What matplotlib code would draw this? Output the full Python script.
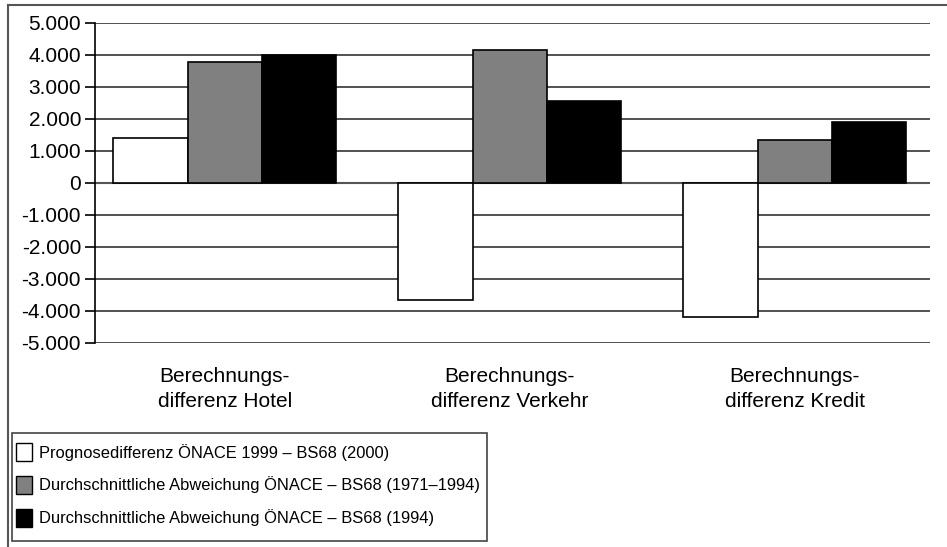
import numpy as np
import matplotlib.pyplot as plt
from matplotlib.lines import Line2D
from matplotlib.patches import Patch, Rectangle

plt.rcParams['font.family'] = ['Liberation Sans', 'DejaVu Sans']

categories = ['Berechnungs-\ndifferenz Hotel', 'Berechnungs-\ndifferenz Verkehr',
              'Berechnungs-\ndifferenz Kredit']
prognose = [1400, -3670, -4200]
abw_71_94 = [3770, 4170, 1350]
abw_94 = [4000, 2550, 1900]
series_names = ['Prognosedifferenz ÖNACE 1999 – BS68 (2000)',
                'Durchschnittliche Abweichung ÖNACE – BS68 (1971–1994)',
                'Durchschnittliche Abweichung ÖNACE – BS68 (1994)']
colors = ['white', '#808080', 'black']
yticks = [-5000, -4000, -3000, -2000, -1000, 0, 1000, 2000, 3000, 4000, 5000]
ytick_labels = ['-5.000', '-4.000', '-3.000', '-2.000', '-1.000', '0',
                '1.000', '2.000', '3.000', '4.000', '5.000']

W, H = 947, 547
fig = plt.figure(figsize=(W/100, H/100), dpi=100)
ax = fig.add_axes([95/W, 1-343/H, (930-95)/W, 320/H])

x = np.arange(len(categories))
w = 0.261
for i, vals in enumerate([prognose, abw_71_94, abw_94]):
    ax.bar(x + (i-1)*w, vals, w, color=colors[i], edgecolor='black',
           linewidth=1.2, zorder=3)

ax.set_xlim(-0.456, 2.475)
ax.set_ylim(-5000, 5000)
ax.set_yticks(yticks)
ax.set_yticklabels(ytick_labels, fontsize=15)
ax.set_xticks(x)
ax.set_xticklabels(categories, fontsize=15, linespacing=1.45)
ax.tick_params(axis='x', length=0, pad=17)
ax.tick_params(axis='y', length=7, width=1.2, direction='out', pad=3)
ax.grid(axis='y', color='#333333', linewidth=1.2, zorder=0)
for s in ['top', 'right', 'bottom']:
    ax.spines[s].set_visible(False)
ax.spines['left'].set_linewidth(1.2)
ax.axhline(0, color='#555555', linewidth=1.5, zorder=2)

# legend (frame drawn separately to get Excel-like padding)
handles = [Patch(facecolor=c, edgecolor='black', linewidth=1) for c in colors]
leg = fig.legend(handles, series_names, loc='upper left',
                 bbox_to_anchor=(16/W, 1-443/H), fontsize=11.9,
                 frameon=False, handlelength=0.97, handleheight=1.3,
                 handletextpad=0.45, labelspacing=0.9, borderpad=0,
                 borderaxespad=0)
fig.add_artist(Rectangle((12/W, 1-541/H), (487-12)/W, (541-433)/H,
                         transform=fig.transFigure, fill=False,
                         edgecolor='#444444', linewidth=1.2))

# outer chart frame
fig.add_artist(Line2D([8/W, 8/W], [0, 1-5/H], transform=fig.transFigure,
                      color='#555555', linewidth=1.5))
fig.add_artist(Line2D([8/W, 1], [1-5/H, 1-5/H], transform=fig.transFigure,
                      color='#555555', linewidth=1.5))

fig.savefig('out.png', dpi=100)
